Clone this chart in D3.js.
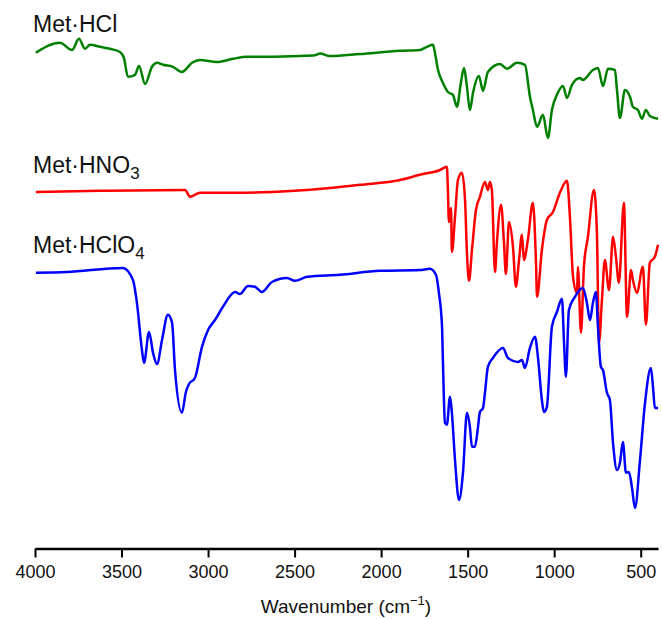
<!DOCTYPE html>
<html lang="en">

<head>
  <meta charset="UTF-8">
  <title>IR spectra</title>
  <script src="https://cdn.jsdelivr.net/npm/d3@7.6.1/dist/d3.min.js"></script>
  <style>
    body {
      margin: 0;
      background: #fff;
    }

    svg {
      display: block;
      font-family: "Liberation Sans", Arial, Helvetica, sans-serif;
    }
  </style>
</head>

<body>
  <div id="chart"></div>
  <script>
    // wavenumber (cm-1) / relative transmittance (offset, a.u.)
    const hclWave = [3995, 3856, 3786, 3746, 3711, 3682, 3624, 3567, 3509, 3486, 3463, 3422, 3399, 3364, 3324, 3295, 3260, 3203, 3151, 3093, 3047, 2948, 2856, 2775, 2659, 2469, 2382, 2353, 2296, 2122, 1891, 1776, 1735, 1700, 1689, 1671, 1643, 1614, 1585, 1562, 1539, 1521, 1504, 1487, 1469, 1435, 1411, 1383, 1313, 1273, 1215, 1169, 1140, 1123, 1099, 1065, 1036, 1013, 984, 949, 926, 897, 851, 834, 776, 747, 718, 689, 649, 637, 620, 591, 562, 545, 516, 493, 470, 447, 400]
    const hclValue = [123.8, 126.3, 124.5, 127.3, 124.8, 125.8, 125.3, 124.8, 124, 122.5, 117.8, 118.3, 120.5, 116, 120.3, 121.3, 120.8, 120.3, 119, 121.3, 122, 121.5, 122.3, 122.8, 122.8, 123, 123.2, 123.6, 123, 123.5, 124.3, 124.5, 125.3, 125.8, 123.8, 119.5, 116.3, 114, 113.3, 110.3, 116.3, 120, 115.3, 109.5, 113.8, 118, 114.3, 119, 121, 119.8, 121.3, 120.8, 112.8, 109.5, 105.3, 108.3, 102.5, 109.5, 113.3, 115.5, 112.5, 115.8, 117.5, 117, 119.5, 120, 115.5, 119.8, 119.5, 114.5, 107.5, 114.5, 112.8, 110.3, 109.5, 107.3, 109.5, 108, 107.3]

    const hno3Wave = [3995, 3624, 3133, 3104, 3047, 2856, 2296, 2122, 1891, 1776, 1660, 1620, 1614, 1608, 1596, 1591, 1573, 1556, 1533, 1515, 1504, 1492, 1475, 1452, 1429, 1400, 1383, 1371, 1360, 1342, 1331, 1307, 1290, 1279, 1261, 1238, 1221, 1203, 1186, 1175, 1152, 1123, 1105, 1099, 1071, 1042, 1007, 967, 926, 909, 891, 868, 863, 845, 828, 805, 770, 753, 741, 724, 707, 683, 660, 643, 626, 597, 579, 556, 545, 522, 487, 470, 447, 418, 400]
    const hno3Value = [89, 89.3, 89.5, 87.8, 88.8, 88.8, 90, 90.8, 92, 93.3, 94.5, 95.3, 89.5, 81.5, 85, 74, 82.8, 92, 93.8, 87, 73.8, 66.8, 74.5, 84.5, 87.8, 91.5, 89.5, 91.5, 89.5, 69, 76.3, 85.8, 76.3, 68.5, 81.5, 75.3, 65.3, 72, 78.3, 72, 77, 86.3, 71.3, 62.8, 74.5, 82, 84, 88.8, 91.8, 82.8, 67.8, 63.8, 70.3, 53.8, 70.3, 77.8, 89.5, 78.8, 51.3, 62, 72, 64.5, 77.8, 72.8, 66.3, 86.3, 57.8, 69.5, 67, 63.8, 70.3, 55.8, 71.3, 72.8, 75.8]

    const hclo4Wave = [3995, 3815, 3492, 3434, 3411, 3382, 3370, 3341, 3318, 3295, 3266, 3232, 3208, 3191, 3151, 3128, 3110, 3076, 3035, 3000, 2960, 2914, 2844, 2816, 2769, 2729, 2688, 2631, 2544, 2498, 2428, 2238, 2007, 1776, 1718, 1683, 1666, 1648, 1643, 1631, 1620, 1602, 1591, 1573, 1550, 1527, 1504, 1487, 1475, 1458, 1440, 1429, 1411, 1400, 1383, 1354, 1296, 1267, 1209, 1186, 1169, 1140, 1111, 1094, 1071, 1059, 1042, 1013, 984, 955, 943, 932, 915, 880, 834, 811, 793, 776, 759, 747, 730, 718, 695, 678, 660, 637, 620, 603, 585, 568, 551, 533, 504, 475, 441, 429, 418, 400]
    const hclo4Value = [68.8, 69, 70, 67, 61.3, 49.5, 46.3, 54, 48.8, 46, 52, 58.3, 56.3, 44.5, 33.8, 39, 41, 42.5, 50.3, 54.5, 57, 60.3, 64, 63.5, 65.5, 65.3, 64, 66.5, 67.5, 66.8, 67.8, 68.3, 69.3, 69.5, 69.8, 68.3, 63.8, 55.3, 47, 31.3, 30.8, 37.8, 33.8, 22, 12, 18.8, 33.8, 30.3, 25.3, 25.3, 30.3, 34, 35, 38.8, 45.3, 47.5, 50, 47.5, 46.5, 47, 45, 50, 52.8, 47.8, 37, 34, 35.3, 55.3, 59, 62.3, 51.3, 42.8, 59.5, 62.8, 65, 61.3, 57, 61.3, 64, 55.3, 45.3, 44.5, 38.8, 37, 26.3, 19.5, 21.3, 26.5, 18.8, 19, 15.3, 10, 22, 36.3, 45, 40.3, 35, 35]

    const tickValues = [4000, 3500, 3000, 2500, 2000, 1500, 1000, 500]

    const width = 662
    const height = 619

    const svg = d3.select('#chart').append('svg')
      .attr('width', width)
      .attr('height', height)

    const x = d3.scaleLinear().domain([4000, 400]).range([35, 658])
    const y = d3.scaleLinear().domain([0, 137]).range([548, 0])

    const line = d3.line()
      .x(d => x(d[0]))
      .y(d => y(d[1]))
      .curve(d3.curveMonotoneX)

    const series = [
      { wave: hclWave, value: hclValue, color: '#008000' },
      { wave: hno3Wave, value: hno3Value, color: '#ff0000' },
      { wave: hclo4Wave, value: hclo4Value, color: '#0000ff' }
    ]

    svg.selectAll('path.spec').data(series)
      .enter().append('path')
      .attr('class', 'spec')
      .attr('fill', 'none')
      .attr('stroke', d => d.color)
      .attr('stroke-width', 2.5)
      .attr('stroke-linejoin', 'round')
      .attr('d', d => line(d.wave.map((w, i) => [w, d.value[i]])))

    // x axis
    const axis = svg.append('g')
      .attr('transform', 'translate(0,548.5)')
      .call(d3.axisBottom(x).tickValues(tickValues).tickFormat(d3.format('d'))
        .tickSize(9).tickSizeOuter(0).tickPadding(8))

    axis.select('.domain').attr('stroke', '#000').attr('stroke-width', 2.5)
    axis.selectAll('.tick line').attr('stroke', '#000').attr('stroke-width', 2)
    axis.selectAll('.tick text')
      .attr('font-size', 18)
      .attr('font-family', '"Liberation Sans", Arial, sans-serif')
      .attr('fill', '#111')

    const title = svg.append('text')
      .attr('x', 346)
      .attr('y', 613)
      .attr('text-anchor', 'middle')
      .attr('font-size', 19)
      .attr('fill', '#111')
    title.append('tspan').text('Wavenumber (cm')
    title.append('tspan').attr('dy', -8).attr('font-size', 13).text('\u22121')
    title.append('tspan').attr('dy', 8).text(')')

    // series labels
    const labels = [
      { main: 'Met\u00b7HCl', sub: '', y: 32 },
      { main: 'Met\u00b7HNO', sub: '3', y: 173 },
      { main: 'Met\u00b7HClO', sub: '4', y: 253 }
    ]

    labels.forEach(l => {
      const t = svg.append('text')
        .attr('x', 33)
        .attr('y', l.y)
        .attr('font-size', 23)
        .attr('fill', '#111')
      t.append('tspan').text(l.main)
      if (l.sub) t.append('tspan').attr('dy', 6).attr('font-size', 17).text(l.sub)
    })
  </script>
</body>

</html>
